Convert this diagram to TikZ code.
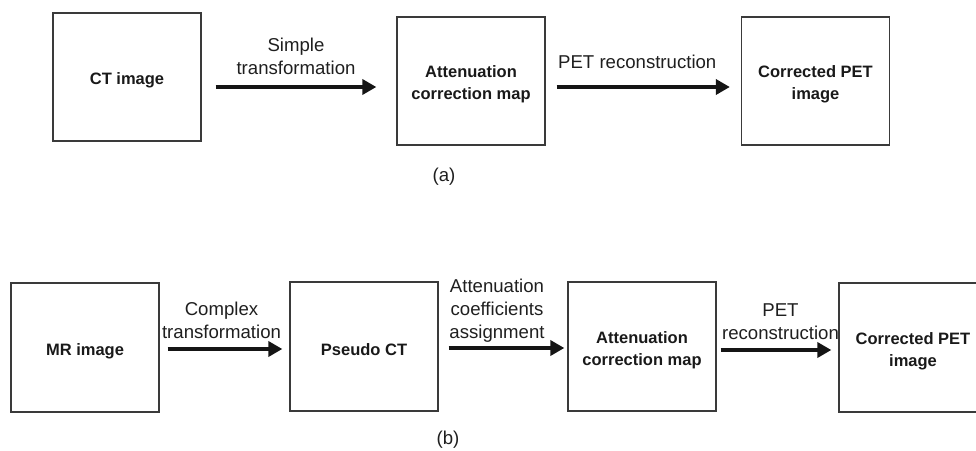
\documentclass[tikz,border=0pt]{standalone}
\usepackage{fontspec}
\setmainfont{Liberation Sans}
\usetikzlibrary{arrows.meta}
\definecolor{boxline}{HTML}{3A3A3A}
\definecolor{arrowcol}{HTML}{151515}
\newcommand{\topstrut}{\rule{0pt}{19pt}}
\tikzset{
  boxnode/.style={draw=boxline, line width=1.3pt, minimum width=148pt, minimum height=128pt, inner sep=0pt, align=center, font=\fontsize{16.5}{22}\selectfont\bfseries, text=black!90},
  arr/.style={draw=arrowcol, line width=4.5pt, -{Triangle[length=14pt,width=15pt]}},
  lbl/.style={font=\fontsize{18.6}{23}\selectfont, align=center, inner sep=0pt, text=black!88},
}
\begin{document}
\begin{tikzpicture}[x=1pt,y=-1pt]
\useasboundingbox (0,0) rectangle (976,450);
% (a)
\node[boxnode] (ct) at (127,77) {\topstrut CT image};
\node[boxnode] (atta) at (471,81) {\topstrut Attenuation\\correction map};
\node[boxnode] (peta) at (815.5,81) {\topstrut Corrected PET\\image};
\draw[arr, shorten <=14pt, shorten >=20pt] (ct.east |- 0,87) -- (atta.west |- 0,87)
  node[lbl, midway, above=10pt, xshift=-3pt] (l1) {Simple\\transformation};
\draw[arr, shorten <=11pt, shorten >=11pt] (atta.east |- 0,87) -- (peta.west |- 0,87)
  node[lbl, midway, above=16pt, xshift=-6pt] (l2) {PET reconstruction};
\node[lbl] (capa) at (444,177) {(a)};
% (b)
\node[boxnode, minimum height=129pt] (mr) at (85,347.5) {\topstrut MR image};
\node[boxnode, minimum height=129pt] (pct) at (364,346.5) {\topstrut Pseudo CT};
\node[boxnode, minimum height=129pt] (attb) at (642,346.5) {\topstrut Attenuation\\correction map};
\node[boxnode, minimum height=129pt] (petb) at (913,347.5) {\topstrut Corrected PET\\image};
\draw[arr, shorten <=8pt, shorten >=7pt] (mr.east |- 0,349) -- (pct.west |- 0,349)
  node[lbl, midway, above=8pt, xshift=-3pt] (l3) {Complex\\transformation};
\draw[arr, shorten <=10pt, shorten >=3pt] (pct.east |- 0,348) -- (attb.west |- 0,348)
  node[lbl, midway, above=3pt, xshift=-6pt] (l4) {Attenuation\\coefficients\\assignment};
\draw[arr, shorten <=4pt, shorten >=7pt] (attb.east |- 0,350) -- (petb.west |- 0,350)
  node[lbl, midway, above=8pt, xshift=3pt] (l5) {PET\\reconstruction};
\node[lbl] (capb) at (448,440) {(b)};
\end{tikzpicture}
\end{document}
